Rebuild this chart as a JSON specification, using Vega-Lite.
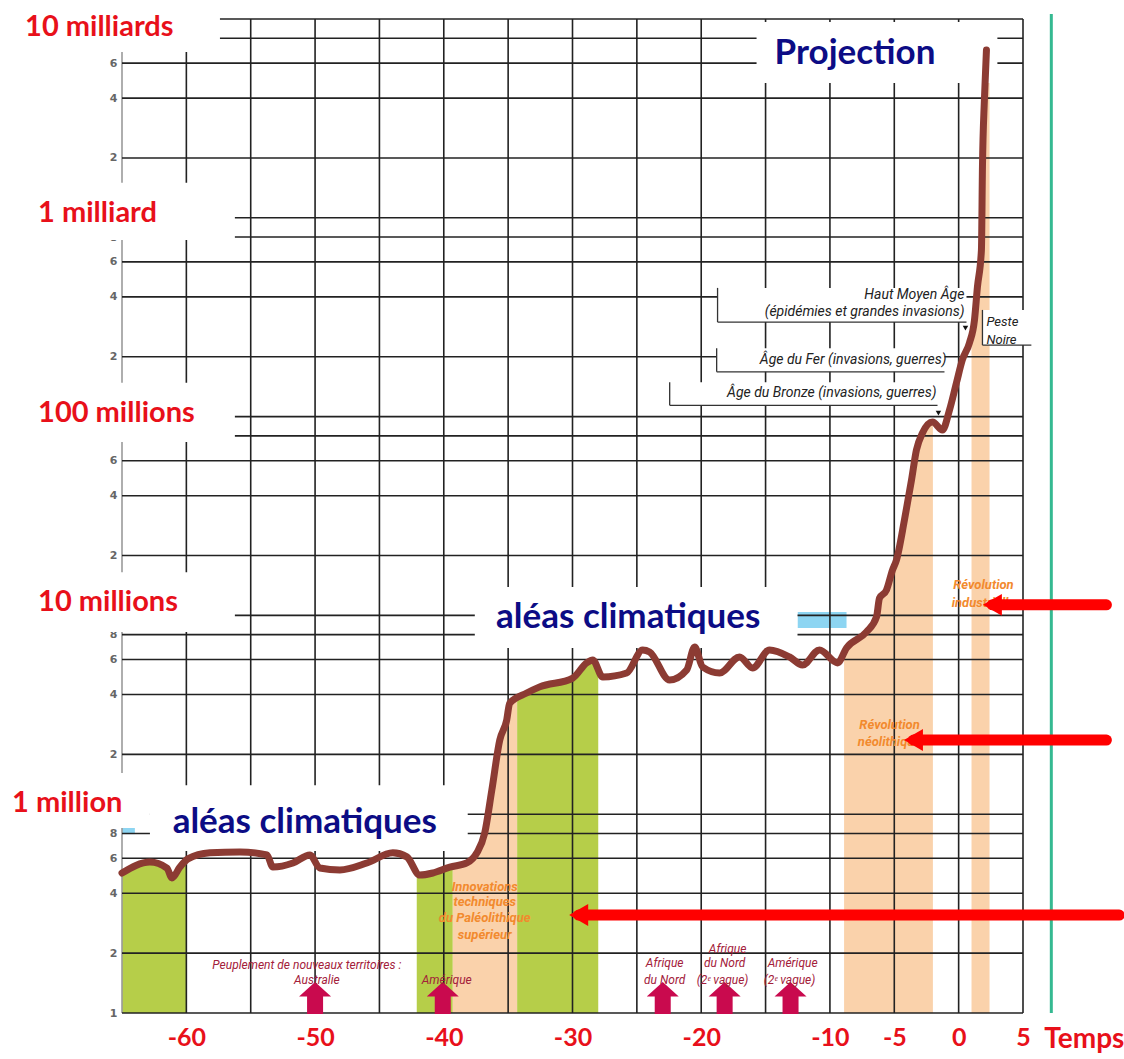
{
  "$schema": "https://vega.github.io/schema/vega-lite/v6.json",
  "autosize": "none",
  "width": 901,
  "height": 994,
  "padding": {"left": 122, "top": 19, "right": 101, "bottom": 46},
  "background": "white",
  "config": {"view": {"stroke": null}},
  "encoding": {
    "x": {
      "field": "x", "type": "quantitative",
      "scale": {"domain": [-65, 5], "nice": false, "zero": false},
      "axis": {
        "values": [-65, -60, -55, -50, -45, -40, -35, -30, -25, -20, -15, -10, -5, 0, 5],
        "grid": false, "ticks": false, "domain": false,
        "labelExpr": "(datum.value % 10 == 0 || datum.value >= -10) ? '' + datum.value : ''",
        "labelFont": "Lato", "labelFontSize": 25, "labelFontWeight": "bold", "labelColor": "#e8101a",
        "labelPadding": 12, "labelFlush": false, "labelOverlap": false, "title": null, "zindex": 0
      }
    },
    "y": {
      "field": "y", "type": "quantitative",
      "scale": {"type": "log", "domain": [100000, 10000000000], "nice": false},
      "axis": {
        "values": [100000, 200000, 400000, 600000, 800000, 1000000, 2000000, 4000000, 6000000, 8000000, 10000000, 20000000, 40000000, 60000000, 80000000, 100000000, 200000000, 400000000, 600000000, 800000000, 1000000000, 2000000000, 4000000000, 6000000000, 8000000000, 10000000000],
        "grid": false, "ticks": false, "domain": false,
        "labelExpr": "datum.value < 150000 ? '1' : ((datum.value > 7000000000 || round(datum.value / pow(10, floor(log(datum.value) / LN10 + 0.000001))) == 1) ? '' : '' + round(datum.value / pow(10, floor(log(datum.value) / LN10 + 0.000001))))",
        "labelFont": "DejaVu Sans", "labelFontSize": 11, "labelFontWeight": "bold", "labelColor": "#666666",
        "labelPadding": 5, "labelOverlap": false, "title": null, "zindex": 0
      }
    }
  },
  "layer": [
    {
      "data": {"values": [
        {"band": "g1", "kind": "green", "x": -65, "y": 506000},
        {"band": "g1", "kind": "green", "x": -62.83, "y": 575000},
        {"band": "g1", "kind": "green", "x": -61.51, "y": 536000},
        {"band": "g1", "kind": "green", "x": -61.12, "y": 478000},
        {"band": "g1", "kind": "green", "x": -60.5, "y": 542000},
        {"band": "g1", "kind": "green", "x": -60.0, "y": 590000},
        {"band": "g2", "kind": "green", "x": -42.1, "y": 540000},
        {"band": "g2", "kind": "green", "x": -41.86, "y": 494000},
        {"band": "g2", "kind": "green", "x": -40.85, "y": 506000},
        {"band": "g2", "kind": "green", "x": -39.53, "y": 542000},
        {"band": "g2", "kind": "green", "x": -39.3, "y": 548000},
        {"band": "o1", "kind": "orange", "x": -39.3, "y": 548000},
        {"band": "o1", "kind": "orange", "x": -38.21, "y": 569000},
        {"band": "o1", "kind": "orange", "x": -37.44, "y": 638000},
        {"band": "o1", "kind": "orange", "x": -36.82, "y": 804000},
        {"band": "o1", "kind": "orange", "x": -36.27, "y": 1320000},
        {"band": "o1", "kind": "orange", "x": -35.65, "y": 2360000},
        {"band": "o1", "kind": "orange", "x": -35.11, "y": 2980000},
        {"band": "o1", "kind": "orange", "x": -34.88, "y": 3620000},
        {"band": "o1", "kind": "orange", "x": -34.3, "y": 3900000},
        {"band": "g3", "kind": "green", "x": -34.3, "y": 3900000},
        {"band": "g3", "kind": "green", "x": -33.56, "y": 4070000},
        {"band": "g3", "kind": "green", "x": -32.55, "y": 4370000},
        {"band": "g3", "kind": "green", "x": -29.98, "y": 4840000},
        {"band": "g3", "kind": "green", "x": -28.9, "y": 5770000},
        {"band": "g3", "kind": "green", "x": -28.43, "y": 5970000},
        {"band": "g3", "kind": "green", "x": -28.0, "y": 5400000},
        {"band": "o2", "kind": "orange", "x": -8.9, "y": 6500000},
        {"band": "o2", "kind": "orange", "x": -8.71, "y": 6860000},
        {"band": "o2", "kind": "orange", "x": -7.16, "y": 8260000},
        {"band": "o2", "kind": "orange", "x": -6.38, "y": 9820000},
        {"band": "o2", "kind": "orange", "x": -6.15, "y": 12200000},
        {"band": "o2", "kind": "orange", "x": -5.61, "y": 13400000},
        {"band": "o2", "kind": "orange", "x": -5.14, "y": 16900000},
        {"band": "o2", "kind": "orange", "x": -4.83, "y": 19000000},
        {"band": "o2", "kind": "orange", "x": -4.21, "y": 30200000},
        {"band": "o2", "kind": "orange", "x": -3.66, "y": 48000000},
        {"band": "o2", "kind": "orange", "x": -3.28, "y": 67900000},
        {"band": "o2", "kind": "orange", "x": -2.81, "y": 82700000},
        {"band": "o2", "kind": "orange", "x": -2.0, "y": 94000000},
        {"band": "o3", "kind": "orange", "x": 1.0, "y": 260000000},
        {"band": "o3", "kind": "orange", "x": 1.23, "y": 306000000},
        {"band": "o3", "kind": "orange", "x": 1.46, "y": 449000000},
        {"band": "o3", "kind": "orange", "x": 1.77, "y": 689000000},
        {"band": "o3", "kind": "orange", "x": 1.85, "y": 1800000000},
        {"band": "o3", "kind": "orange", "x": 2.0, "y": 3920000000},
        {"band": "o3", "kind": "orange", "x": 2.16, "y": 6500000000},
        {"band": "o3", "kind": "orange", "x": 2.4, "y": 5000000000}
      ]},
      "mark": {"type": "area", "interpolate": "monotone"},
      "encoding": {
        "y2": {"datum": 100000},
        "color": {"field": "kind", "type": "nominal", "scale": {"domain": ["green", "orange"], "range": ["#b6ce49", "#fad2ab"]}, "legend": null},
        "detail": {"field": "band"}
      }
    },
    {
      "data": {"values": [
        {"x": -12.52, "x2": -8.71, "y": 10400000, "y2": 8650000},
        {"x": -65, "x2": -64, "y": 863000, "y2": 794000}
      ]},
      "mark": {"type": "rect", "color": "#8dd5f2"},
      "encoding": {"x2": {"field": "x2"}, "y2": {"field": "y2"}}
    },
    {
      "data": {"values": [
        {"x": -60, "y": 100000, "y2": 10000000000}, {"x": -55, "y": 100000, "y2": 10000000000},
        {"x": -50, "y": 100000, "y2": 10000000000}, {"x": -45, "y": 100000, "y2": 10000000000},
        {"x": -40, "y": 100000, "y2": 10000000000}, {"x": -35, "y": 100000, "y2": 10000000000},
        {"x": -30, "y": 100000, "y2": 10000000000}, {"x": -25, "y": 100000, "y2": 10000000000},
        {"x": -20, "y": 100000, "y2": 10000000000}, {"x": -15, "y": 100000, "y2": 10000000000},
        {"x": -10, "y": 100000, "y2": 10000000000}, {"x": -5, "y": 100000, "y2": 10000000000},
        {"x": 0, "y": 100000, "y2": 10000000000}, {"x": 5, "y": 100000, "y2": 10000000000}
      ]},
      "mark": {"type": "rule", "color": "#222222", "strokeWidth": 1.6},
      "encoding": {"y2": {"field": "y2"}}
    },
    {
      "data": {"values": [{"x": -65, "y": 100000, "y2": 10000000000}]},
      "mark": {"type": "rule", "color": "#9a9a9a", "strokeWidth": 1.6},
      "encoding": {"y2": {"field": "y2"}}
    },
    {
      "data": {"values": [
        {"x": -65, "x2": 5, "y": 100000}, {"x": -65, "x2": 5, "y": 200000}, {"x": -65, "x2": 5, "y": 400000},
        {"x": -65, "x2": 5, "y": 600000}, {"x": -65, "x2": 5, "y": 800000},
        {"x": -65, "x2": 5, "y": 1000000}, {"x": -65, "x2": 5, "y": 2000000}, {"x": -65, "x2": 5, "y": 4000000},
        {"x": -65, "x2": 5, "y": 6000000}, {"x": -65, "x2": 5, "y": 8000000},
        {"x": -65, "x2": 5, "y": 10000000}, {"x": -65, "x2": 5, "y": 20000000}, {"x": -65, "x2": 5, "y": 40000000},
        {"x": -65, "x2": 5, "y": 60000000}, {"x": -65, "x2": 5, "y": 80000000},
        {"x": -65, "x2": 5, "y": 100000000}, {"x": -65, "x2": 5, "y": 200000000}, {"x": -65, "x2": 5, "y": 400000000},
        {"x": -65, "x2": 5, "y": 600000000}, {"x": -65, "x2": 5, "y": 800000000},
        {"x": -65, "x2": 5, "y": 1000000000}, {"x": -65, "x2": 5, "y": 2000000000}, {"x": -65, "x2": 5, "y": 4000000000},
        {"x": -65, "x2": 5, "y": 6000000000}, {"x": -65, "x2": 5, "y": 8000000000},
        {"x": -65, "x2": 5, "y": 10000000000}
      ]},
      "mark": {"type": "rule", "color": "#222222", "strokeWidth": 1.6},
      "encoding": {"x2": {"field": "x2"}}
    },
    {
      "data": {"values": [
        {"x": -74.5, "x2": -57.39, "y": 13000000000, "y2": 6820000000},
        {"x": -73.3, "x2": -56.23, "y": 1500000000, "y2": 773000000},
        {"x": -72.9, "x2": -56.23, "y": 148000000, "y2": 74500000},
        {"x": -72.9, "x2": -56.23, "y": 16500000, "y2": 8240000},
        {"x": -74.5, "x2": -62.83, "y": 1610000, "y2": 853000},
        {"x": -62.83, "x2": -38.14, "y": 1400000, "y2": 653000},
        {"x": -37.59, "x2": -12.52, "y": 13900000, "y2": 6860000},
        {"x": -15.7, "x2": 3.01, "y": 9660000000, "y2": 4770000000},
        {"x": -18.73, "x2": 0.61, "y": 444000000, "y2": 299000000},
        {"x": -18.8, "x2": -1.1, "y": 221000000, "y2": 168000000},
        {"x": -22.45, "x2": -1.64, "y": 149000000, "y2": 114000000},
        {"x": 1.85, "x2": 5.65, "y": 344000000, "y2": 229000000}
      ]},
      "mark": {"type": "rect", "color": "white"},
      "encoding": {"x2": {"field": "x2"}, "y2": {"field": "y2"}}
    },
    {
      "data": {"values": [
        {"x": -18.73, "x2": -18.73, "y": 444000000, "y2": 299000000},
        {"x": -18.73, "x2": 0.61, "y": 299000000, "y2": 299000000},
        {"x": -18.8, "x2": -18.8, "y": 221000000, "y2": 168000000},
        {"x": -18.8, "x2": -1.1, "y": 168000000, "y2": 168000000},
        {"x": -22.45, "x2": -22.45, "y": 149000000, "y2": 114000000},
        {"x": -22.45, "x2": -1.64, "y": 114000000, "y2": 114000000},
        {"x": 1.85, "x2": 1.85, "y": 344000000, "y2": 229000000},
        {"x": 1.85, "x2": 5.65, "y": 229000000, "y2": 229000000}
      ]},
      "mark": {"type": "rule", "color": "#333333", "strokeWidth": 1.3},
      "encoding": {"x2": {"field": "x2"}, "y2": {"field": "y2"}}
    },
    {
      "data": {"values": [
        {"x": 0.53, "y": 279000000},
        {"x": -1.57, "y": 104000000}
      ]},
      "mark": {"type": "point", "shape": "triangle-down", "filled": true, "color": "#111111", "size": 30, "opacity": 1},
      "encoding": {}
    },
    {
      "data": {"values": [{"x": 7.2, "y": 100000, "y2": 10600000000}]},
      "mark": {"type": "rule", "color": "#35b991", "strokeWidth": 3},
      "encoding": {"y2": {"field": "y2"}}
    },
    {
      "data": {"values": [
        {"x": -65, "y": 506000}, {"x": -62.83, "y": 575000}, {"x": -61.51, "y": 536000},
        {"x": -61.12, "y": 478000}, {"x": -60.5, "y": 542000}, {"x": -59.88, "y": 596000},
        {"x": -58.17, "y": 639000}, {"x": -55.84, "y": 646000}, {"x": -53.74, "y": 624000},
        {"x": -53.28, "y": 542000}, {"x": -51.72, "y": 568000}, {"x": -50.4, "y": 624000},
        {"x": -49.63, "y": 536000}, {"x": -48.07, "y": 524000}, {"x": -45.98, "y": 568000},
        {"x": -43.96, "y": 639000}, {"x": -42.87, "y": 610000}, {"x": -41.86, "y": 494000},
        {"x": -40.85, "y": 506000}, {"x": -39.53, "y": 542000}, {"x": -38.21, "y": 569000},
        {"x": -37.44, "y": 638000}, {"x": -36.82, "y": 804000}, {"x": -36.27, "y": 1320000},
        {"x": -35.65, "y": 2360000}, {"x": -35.11, "y": 2980000}, {"x": -34.88, "y": 3620000},
        {"x": -33.56, "y": 4070000}, {"x": -32.55, "y": 4370000}, {"x": -29.98, "y": 4840000},
        {"x": -28.9, "y": 5770000}, {"x": -28.43, "y": 5970000}, {"x": -27.65, "y": 4900000},
        {"x": -25.79, "y": 5130000}, {"x": -24.55, "y": 6700000}, {"x": -24.01, "y": 6550000},
        {"x": -22.45, "y": 4730000}, {"x": -21.13, "y": 5310000}, {"x": -20.51, "y": 6930000},
        {"x": -19.89, "y": 5500000}, {"x": -18.57, "y": 5130000}, {"x": -17.02, "y": 6180000},
        {"x": -16.01, "y": 5440000}, {"x": -14.69, "y": 6700000}, {"x": -13.14, "y": 6180000},
        {"x": -12.13, "y": 5630000}, {"x": -10.81, "y": 6700000}, {"x": -9.41, "y": 5770000},
        {"x": -8.71, "y": 6860000}, {"x": -7.16, "y": 8260000}, {"x": -6.38, "y": 9820000},
        {"x": -6.15, "y": 12200000}, {"x": -5.61, "y": 13400000}, {"x": -5.14, "y": 16900000},
        {"x": -4.83, "y": 19000000}, {"x": -4.21, "y": 30200000}, {"x": -3.66, "y": 48000000},
        {"x": -3.28, "y": 67900000}, {"x": -2.81, "y": 82700000}, {"x": -2.03, "y": 94000000},
        {"x": -1.26, "y": 85700000}, {"x": -0.71, "y": 108000000}, {"x": -0.17, "y": 148000000},
        {"x": 0.29, "y": 193000000}, {"x": 0.84, "y": 235000000}, {"x": 1.23, "y": 306000000},
        {"x": 1.46, "y": 449000000}, {"x": 1.77, "y": 689000000}, {"x": 1.85, "y": 1800000000},
        {"x": 2.0, "y": 3920000000}, {"x": 2.16, "y": 6980000000}
      ]},
      "mark": {"type": "line", "color": "#8c3b33", "strokeWidth": 7, "strokeCap": "round", "strokeJoin": "round", "interpolate": "monotone"},
      "encoding": {}
    },
    {
      "data": {"values": [
        {"x": -50.0, "y": 119000}, {"x": -40.08, "y": 119000}, {"x": -22.99, "y": 119000},
        {"x": -18.18, "y": 119000}, {"x": -13.06, "y": 119000}
      ]},
      "mark": {"type": "point", "shape": "M0,-1L1,-0.1L0.5,-0.1L0.5,1L-0.5,1L-0.5,-0.1L-1,-0.1Z", "filled": true, "color": "#c90a4e", "size": 1024, "opacity": 1},
      "encoding": {}
    },
    {
      "data": {"values": [
        {"x": -72.53, "y": 9120000000, "label": "10 milliards"},
        {"x": -71.52, "y": 1060000000, "label": "1 milliard"},
        {"x": -71.52, "y": 104000000, "label": "100 millions"},
        {"x": -71.52, "y": 11700000, "label": "10 millions"},
        {"x": -73.54, "y": 1140000, "label": "1 million"}
      ]},
      "mark": {"type": "text", "align": "left", "baseline": "middle", "font": "Lato", "fontSize": 29, "fontWeight": "bold", "color": "#e8101a"},
      "encoding": {"text": {"field": "label"}}
    },
    {
      "data": {"values": [
        {"x": 6.66, "y": 73100, "label": "Temps"}
      ]},
      "mark": {"type": "text", "align": "left", "baseline": "middle", "font": "Lato", "fontSize": 28, "fontWeight": "bold", "color": "#e8101a"},
      "encoding": {"text": {"field": "label"}}
    },
    {
      "data": {"values": [
        {"x": -8.05, "y": 6750000000, "label": "Projection"},
        {"x": -25.67, "y": 9820000, "label": "aléas climatiques"},
        {"x": -50.8, "y": 914000, "label": "aléas climatiques"}
      ]},
      "mark": {"type": "text", "align": "center", "baseline": "middle", "font": "Lato", "fontSize": 35, "fontWeight": "bold", "color": "#0c0c85"},
      "encoding": {"text": {"field": "label"}}
    },
    {
      "data": {"values": [
        {"x": 0.45, "y": 409000000, "label": "Haut Moyen Âge"},
        {"x": 0.45, "y": 336000000, "label": "(épidémies et grandes invasions)"},
        {"x": -0.95, "y": 193000000, "label": "Âge du Fer (invasions, guerres)"},
        {"x": -1.72, "y": 131000000, "label": "Âge du Bronze (invasions, guerres)"}
      ]},
      "mark": {"type": "text", "align": "right", "baseline": "middle", "font": "Roboto", "fontSize": 14, "fontStyle": "italic", "color": "#222222"},
      "encoding": {"text": {"field": "label"}}
    },
    {
      "data": {"values": [
        {"x": 2.16, "y": 299000000, "label": "Peste"},
        {"x": 2.16, "y": 243000000, "label": "Noire"}
      ]},
      "mark": {"type": "text", "align": "left", "baseline": "middle", "font": "Roboto", "fontSize": 13, "fontStyle": "italic", "color": "#222222"},
      "encoding": {"text": {"field": "label"}}
    },
    {
      "data": {"values": [
        {"x": -50.64, "y": 174000, "label": "Peuplement de nouveaux territoires :"},
        {"x": -49.86, "y": 147000, "label": "Australie"},
        {"x": -39.77, "y": 147000, "label": "Amérique"},
        {"x": -22.84, "y": 178000, "label": "Afrique"},
        {"x": -22.84, "y": 147000, "label": "du Nord"},
        {"x": -17.95, "y": 210000, "label": "Afrique"},
        {"x": -18.18, "y": 178000, "label": "du Nord"},
        {"x": -18.34, "y": 147000, "label": "(2ᵉ vague)"},
        {"x": -12.9, "y": 178000, "label": "Amérique"},
        {"x": -13.14, "y": 147000, "label": "(2ᵉ vague)"}
      ]},
      "mark": {"type": "text", "align": "center", "baseline": "middle", "font": "Roboto", "fontSize": 12, "fontStyle": "italic", "color": "#a3203a"},
      "encoding": {"text": {"field": "label"}}
    },
    {
      "data": {"values": [
        {"x": -36.82, "y": 431000, "label": "Innovations"},
        {"x": -36.82, "y": 361000, "label": "techniques"},
        {"x": -36.82, "y": 300000, "label": "du Paléolithique"},
        {"x": -36.82, "y": 247000, "label": "supérieur"},
        {"x": -5.37, "y": 2810000, "label": "Révolution"},
        {"x": -5.37, "y": 2310000, "label": "néolithique"},
        {"x": 1.93, "y": 14200000, "label": "Révolution"},
        {"x": 1.93, "y": 11500000, "label": "industrielle"}
      ]},
      "mark": {"type": "text", "align": "center", "baseline": "middle", "font": "Roboto", "fontSize": 13, "fontStyle": "italic", "fontWeight": "bold", "color": "#f28a2e"},
      "encoding": {"text": {"field": "label"}}
    },
    {
      "data": {"values": [
        {"x": 2.62, "x2": 11.48, "y": 11300000},
        {"x": -3.51, "x2": 11.48, "y": 2360000},
        {"x": -29.52, "x2": 12.48, "y": 311000}
      ]},
      "mark": {"type": "rule", "color": "#ff0000", "strokeWidth": 11, "strokeCap": "round"},
      "encoding": {"x2": {"field": "x2"}}
    },
    {
      "data": {"values": [
        {"x": 2.62, "y": 11300000},
        {"x": -3.51, "y": 2360000},
        {"x": -29.52, "y": 311000}
      ]},
      "mark": {"type": "point", "shape": "triangle-left", "filled": true, "color": "#ff0000", "size": 480, "opacity": 1},
      "encoding": {}
    }
  ]
}
